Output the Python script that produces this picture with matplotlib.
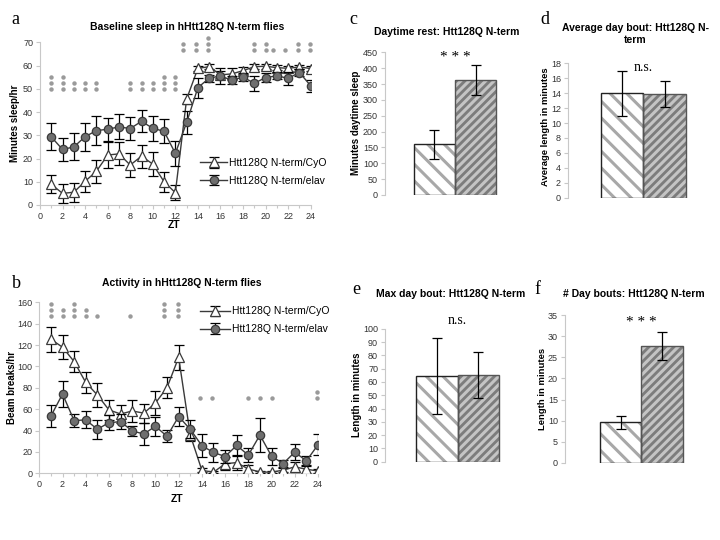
import numpy as np
import matplotlib
matplotlib.use('Agg')
import matplotlib.pyplot as plt

plt.rcParams['font.family'] = ['Liberation Sans', 'DejaVu Sans']
plt.rcParams['hatch.linewidth'] = 2.2

# ---- data ----
zt = list(range(1, 25))
labels = ['Htt128Q N-term/CyO', 'Htt128Q N-term/elav']

sleep_cyo = [8.9, 5.0, 5.5, 10.2, 14.5, 21.5, 22.0, 17.2, 21.0, 17.6, 10.0, 5.3,
             45.6, 58.8, 59.5, 56.0, 56.4, 57.8, 59.5, 59.7, 59.1, 58.8, 59.4, 58.7]
sleep_cyo_err = [3.8, 4.0, 4.0, 4.5, 5.0, 5.7, 5.0, 5.0, 5.0, 5.0, 4.3, 3.2,
                 2.0, 1.0, 1.0, 1.5, 2.5, 1.5, 1.0, 1.0, 1.2, 1.0, 1.0, 1.0]
sleep_elav = [29.3, 23.9, 25.0, 29.4, 32.0, 32.6, 33.6, 32.9, 36.0, 33.0, 31.7, 22.2,
              35.5, 50.5, 54.6, 55.5, 53.7, 55.0, 52.4, 54.8, 55.6, 54.5, 57.0, 51.3]
sleep_elav_err = [5.8, 5.0, 5.8, 6.0, 6.2, 5.0, 5.4, 5.0, 4.8, 5.4, 5.2, 5.4,
                  5.0, 4.3, 1.5, 3.5, 1.8, 1.8, 3.3, 2.0, 1.5, 2.7, 1.3, 2.6]

act_cyo = [125.4, 118.0, 104.5, 85.0, 73.3, 59.3, 55.5, 58.3, 56.3, 65.7, 80.2, 108.5,
           35.8, 2.8, 1.0, 9.0, 10.0, 4.0, 1.3, 1.0, 3.0, 6.0, 3.8, 2.2]
act_cyo_err = [11.5, 11.0, 10.0, 10.0, 11.0, 9.5, 8.0, 10.0, 9.0, 11.0, 10.0, 11.5,
               6.0, 2.0, 1.0, 6.0, 7.0, 4.0, 1.0, 1.0, 2.0, 5.0, 4.0, 2.0]
act_elav = [53.5, 74.2, 49.3, 50.0, 41.2, 47.4, 48.3, 39.6, 36.8, 44.0, 34.6, 53.1,
            41.2, 25.8, 19.5, 15.7, 26.1, 17.0, 35.8, 16.0, 9.1, 19.8, 11.6, 26.7]
act_elav_err = [10.5, 12.0, 6.0, 8.0, 9.0, 7.0, 7.0, 5.0, 10.0, 9.0, 5.5, 9.0,
                8.5, 11.0, 9.0, 6.5, 9.5, 6.5, 15.5, 8.0, 3.5, 7.5, 4.5, 10.0]

# significance dots: x position, number of stacked dots, base y
sleep_sig_x = [1, 2, 3, 4, 5, 8, 9, 10, 11, 12, 12.65, 13.8, 14.87, 18.97, 20.0, 20.7, 21.75, 22.85, 23.94]
sleep_sig_n = [3, 3, 2, 2, 2, 2, 2, 2, 3, 3, 2, 2, 3, 2, 2, 1, 1, 2, 2]
sleep_sig_base = [50] * 10 + [66.7] * 9
act_sig_x = [1, 2, 3, 4, 5, 7.85, 10.74, 11.97, 13.84, 14.84, 17.97, 18.98, 20.0, 23.9]
act_sig_n = [3, 2, 3, 2, 1, 1, 3, 3, 1, 1, 1, 1, 1, 2]
act_sig_base = [146.9] * 8 + [70.4] * 6

day_sleep = [160, 362]
day_sleep_err = [46, 47]
avg_bout = [14.0, 13.85]
avg_bout_err = [3.0, 1.75]
max_bout = [64.4, 65.2]
max_bout_err = [28.5, 17.0]
n_bouts = [9.6, 27.7]
n_bouts_err = [1.5, 3.3]

fig = plt.figure(figsize=(7.2, 5.4), dpi=100)
W, H = 720.0, 540.0


def px_axes(l, t, r, b):
    return fig.add_axes([l / W, 1 - b / H, (r - l) / W, (b - t) / H])


def fig_text(x, y, s, **kw):
    fig.text(x / W, 1 - y / H, s, **kw)


def style(ax):
    for s in ['top', 'right']:
        ax.spines[s].set_visible(False)
    for s in ['left', 'bottom']:
        ax.spines[s].set_color('#c8c8c8')
        ax.spines[s].set_linewidth(0.8)
    ax.tick_params(labelsize=6.5, labelcolor='#333333', color='#c8c8c8',
                   length=3, width=0.8, pad=2)
    ax.tick_params(which='minor', color='#c8c8c8', length=2, width=0.8)


def line_panel(ax, cyo, cyo_err, elav, elav_err, sx, sn, sb, step, ymax, ystep):
    style(ax)
    ax.errorbar(zt, cyo, yerr=cyo_err, color='#3a3a3a', lw=1.0, marker='^', ms=6.5,
                mfc='white', mec='#3a3a3a', mew=0.9, ecolor='black', elinewidth=0.9,
                capsize=3.5, capthick=0.9, label=labels[0], zorder=3)
    ax.errorbar(zt, elav, yerr=elav_err, color='#3a3a3a', lw=1.0, marker='o', ms=6,
                mfc='#6e6e6e', mec='#3a3a3a', mew=0.9, ecolor='black', elinewidth=0.9,
                capsize=3.5, capthick=0.9, label=labels[1], zorder=4)
    for x, n, b in zip(sx, sn, sb):
        ys = [b + i * step for i in range(n)]
        ax.plot([x] * n, ys, 'o', color='#9a9a9a', ms=3.2, mec='none', clip_on=False)
    ax.set_xlim(0, 24)
    ax.set_ylim(0, ymax)
    ax.set_xticks(range(0, 25, 2))
    ax.set_xticks(range(0, 25), minor=True)
    ax.set_yticks(np.arange(0, ymax + 1, ystep))


# ---- panel a ----
ax_a = px_axes(40, 42.3, 310.7, 205)
line_panel(ax_a, sleep_cyo, sleep_cyo_err, sleep_elav, sleep_elav_err,
           sleep_sig_x, sleep_sig_n, sleep_sig_base, 2.6, 70, 10)
ax_a.legend(loc='upper left', bbox_to_anchor=(200 / W, 1 - 158 / H),
            bbox_transform=fig.transFigure, frameon=False, fontsize=7.5,
            handlelength=2.6, handletextpad=0.15, borderpad=0, borderaxespad=0,
            labelspacing=0.75, numpoints=1)
fig_text(187, 27, 'Baseline sleep in hHtt128Q N-term flies', fontsize=7.5,
         fontweight='bold', ha='center', va='center')
fig_text(174, 225.5, 'ZT', fontsize=7.5, fontweight='bold', ha='center', va='center')
fig_text(15.5, 123, 'Minutes sleep/hr', fontsize=7, fontweight='bold', rotation=90,
         ha='center', va='center')
fig_text(15.5, 19, 'a', fontsize=13, family=['Liberation Serif', 'DejaVu Serif'],
         ha='center', va='center')

# ---- panel b ----
ax_b = px_axes(39.3, 302.3, 318, 473.3)
line_panel(ax_b, act_cyo, act_cyo_err, act_elav, act_elav_err,
           act_sig_x, act_sig_n, act_sig_base, 5.8, 160, 20)
ax_b.legend(loc='upper left', bbox_to_anchor=(200 / W, 1 - 306.5 / H),
            bbox_transform=fig.transFigure, frameon=False, fontsize=7.5,
            handlelength=2.9, handletextpad=0.15, borderpad=0, borderaxespad=0,
            labelspacing=0.75, numpoints=1)
fig_text(182, 283.5, 'Activity in hHtt128Q N-term flies', fontsize=7.5,
         fontweight='bold', ha='center', va='center')
fig_text(177.5, 499.5, 'ZT', fontsize=7.5, fontweight='bold', ha='center', va='center')
fig_text(12.5, 388, 'Beam breaks/hr', fontsize=7, fontweight='bold', rotation=90,
         ha='center', va='center')
fig_text(16.5, 283, 'b', fontsize=13, family=['Liberation Serif', 'DejaVu Serif'],
         ha='center', va='center')


# ---- bar panels ----
def bar_panel(ax, vals, errs, ymax, ystep, xlim):
    style(ax)
    ax.spines['bottom'].set_visible(False)
    ax.tick_params(axis='x', bottom=False, labelbottom=False)
    xs = [-0.5, 0.5]
    ax.bar(xs[0], vals[0], width=1, color='white', edgecolor='#a8a8a8', hatch='\\\\',
           lw=0, zorder=2)
    ax.bar(xs[1], vals[1], width=1, color='#7c7c7c', edgecolor='#c4c4c4', hatch='////',
           lw=0, zorder=2)
    ax.bar(xs[0], vals[0], width=1, fill=False, edgecolor='#222222', lw=1.0, zorder=3)
    ax.bar(xs[1], vals[1], width=1, fill=False, edgecolor='#555555', lw=1.0, zorder=3)
    ax.errorbar(xs, vals, yerr=errs, fmt='none', ecolor='black', elinewidth=0.9,
                capsize=3.5, capthick=0.9, zorder=4)
    ax.set_xlim(*xlim)
    ax.set_ylim(0, ymax)
    ax.set_yticks(np.arange(0, ymax + 0.01, ystep))


serif = ['Liberation Serif', 'DejaVu Serif']

ax_c = px_axes(385, 52.3, 525, 195)
bar_panel(ax_c, day_sleep, day_sleep_err, 450, 50, (-1.707, 1.707))
ax_c.text(0, 433, '* * *', fontsize=11, family=serif, ha='center', va='center')
fig_text(446.5, 32, 'Daytime rest: Htt128Q N-term', fontsize=7.5, fontweight='bold',
         ha='center', va='center')
fig_text(356, 123, 'Minutes daytime sleep', fontsize=7, fontweight='bold', rotation=90,
         ha='center', va='center')
fig_text(353, 19, 'c', fontsize=13, family=serif, ha='center', va='center')

ax_d = px_axes(568, 63.3, 716, 197.7)
bar_panel(ax_d, avg_bout, avg_bout_err, 18, 2, (-1.776, 1.706))
ax_d.text(0, 17.4, 'n.s.', fontsize=10, family=serif, ha='center', va='center')
fig_text(635, 34, 'Average day bout: Htt128Q N-\nterm', fontsize=7.5, fontweight='bold',
         ha='center', va='center', linespacing=1.15)
fig_text(545.5, 127, 'Average length in minutes', fontsize=6.8, fontweight='bold',
         rotation=90, ha='center', va='center')
fig_text(545, 19, 'd', fontsize=13, family=serif, ha='center', va='center')

ax_e = px_axes(385, 328.7, 530, 461.7)
bar_panel(ax_e, max_bout, max_bout_err, 100, 10, (-1.747, 1.747))
ax_e.text(0, 106.5, 'n.s.', fontsize=10, family=serif, ha='center', va='center')
fig_text(451, 294, 'Max day bout: Htt128Q N-term', fontsize=7.5, fontweight='bold',
         ha='center', va='center')
fig_text(357, 395, 'Length in minutes', fontsize=7, fontweight='bold', rotation=90,
         ha='center', va='center')
fig_text(356, 290, 'e', fontsize=13, family=serif, ha='center', va='center')

ax_f = px_axes(565, 315.3, 716, 462.7)
bar_panel(ax_f, n_bouts, n_bouts_err, 35, 5, (-1.843, 1.795))
ax_f.text(0, 33.4, '* * *', fontsize=11, family=serif, ha='center', va='center')
fig_text(634, 294, '# Day bouts: Htt128Q N-term', fontsize=7.5, fontweight='bold',
         ha='center', va='center')
fig_text(542.5, 389, 'Length in minutes', fontsize=6.8, fontweight='bold', rotation=90,
         ha='center', va='center')
fig_text(537, 290, 'f', fontsize=13, family=serif, ha='center', va='center')

fig.savefig('out.png', dpi=100)
